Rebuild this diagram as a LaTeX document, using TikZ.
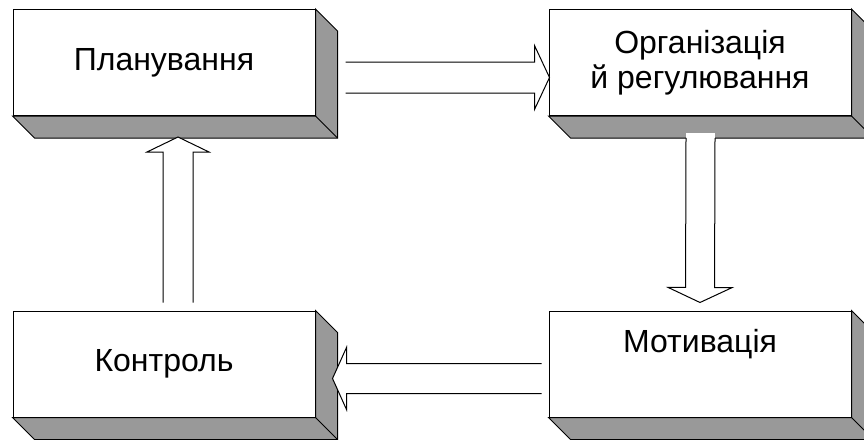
\documentclass[tikz,border=0pt]{standalone}
\usepackage{fontspec}
\setmainfont{Liberation Sans}
\usetikzlibrary{calc}

\definecolor{sidegray}{RGB}{153,153,153}

% block arrow: open tail at #1, tip at #2, shaft half-width #3,
% head half-width #4, head length #5
\newcommand\blockarrow[5]{%
  \coordinate (ba-b) at ($(#2)!#5!(#1)$);
  \coordinate (ba-s1) at ($(#1)!#3!90:(#2)$);
  \coordinate (ba-s2) at ($(#1)!#3!-90:(#2)$);
  \coordinate (ba-b1) at ($(ba-b)!#3!90:(#2)$);
  \coordinate (ba-b2) at ($(ba-b)!#3!-90:(#2)$);
  \coordinate (ba-h1) at ($(ba-b)!#4!90:(#2)$);
  \coordinate (ba-h2) at ($(ba-b)!#4!-90:(#2)$);
  \fill[white] (ba-s1) -- (ba-b1) -- (ba-h1) -- (#2) -- (ba-h2) -- (ba-b2) -- (ba-s2) -- cycle;
  \draw[outline] (ba-s1) -- (ba-b1) -- (ba-h1) -- (#2) -- (ba-h2) -- (ba-b2) -- (ba-s2);
}

% gray bottom and right faces of a raised block
\newcommand\blockdepth[1]{%
  \filldraw[outline, fill=sidegray]
    (#1.south west) -- ++(22,22) -- ($(#1.south east)+(22,22)$)
    -- ($(#1.north east)+(22,22)$) -- (#1.north east) -- (#1.south east) -- cycle;
  \draw[outline] (#1.south east) -- ++(22,22);
}

\begin{document}
\begin{tikzpicture}[x=1pt, y=-1pt,
  outline/.style={draw=black, line width=1pt, line join=miter},
  face/.style={outline, fill=white, rectangle, minimum width=302pt,
    minimum height=106pt, inner sep=0pt, align=center,
    font=\fontsize{32}{35}\selectfont}]
\useasboundingbox (0,0) rectangle (864,439);

% front faces
\node[face] (plan) at (164,62.5) {Планування};
\node[face] (org)  at (700,62.5) {Організація\\й регулювання};
\node[face] (mot)  at (700,364)  {Мотивація\\\strut};
\node[face] (ctrl) at (164,364)  {Контроль};

% depth faces
\blockdepth{plan}
\blockdepth{org}
\blockdepth{mot}
\blockdepth{ctrl}

% connectors
\coordinate (p-o-s) at ($(plan.east)+(30,15)$);
\coordinate (p-o-t) at ($(org.west)+(1,15)$);
\blockarrow{p-o-s}{p-o-t}{15.5pt}{32pt}{15pt}

\coordinate (o-m-s) at ($(org.south)+(0.5,22)$);
\coordinate (o-m-t) at ($(mot.north)+(0,-8)$);
\fill[white] ($(o-m-s)+(-14.5,-5.5)$) rectangle ($(o-m-s)+(14.5,0)$);
\blockarrow{o-m-s}{o-m-t}{14.5pt}{32pt}{15pt}

\coordinate (m-c-s) at ($(mot.west)+(-7,14.5)$);
\coordinate (m-c-t) at ($(ctrl.east)+(17,14.5)$);
\blockarrow{m-c-s}{m-c-t}{15pt}{31pt}{14pt}

\coordinate (c-p-s) at ($(ctrl.north)+(14,-8)$);
\coordinate (c-p-t) at ($(plan.south)+(14,21)$);
\blockarrow{c-p-s}{c-p-t}{15pt}{31pt}{15pt}
\end{tikzpicture}
\end{document}
